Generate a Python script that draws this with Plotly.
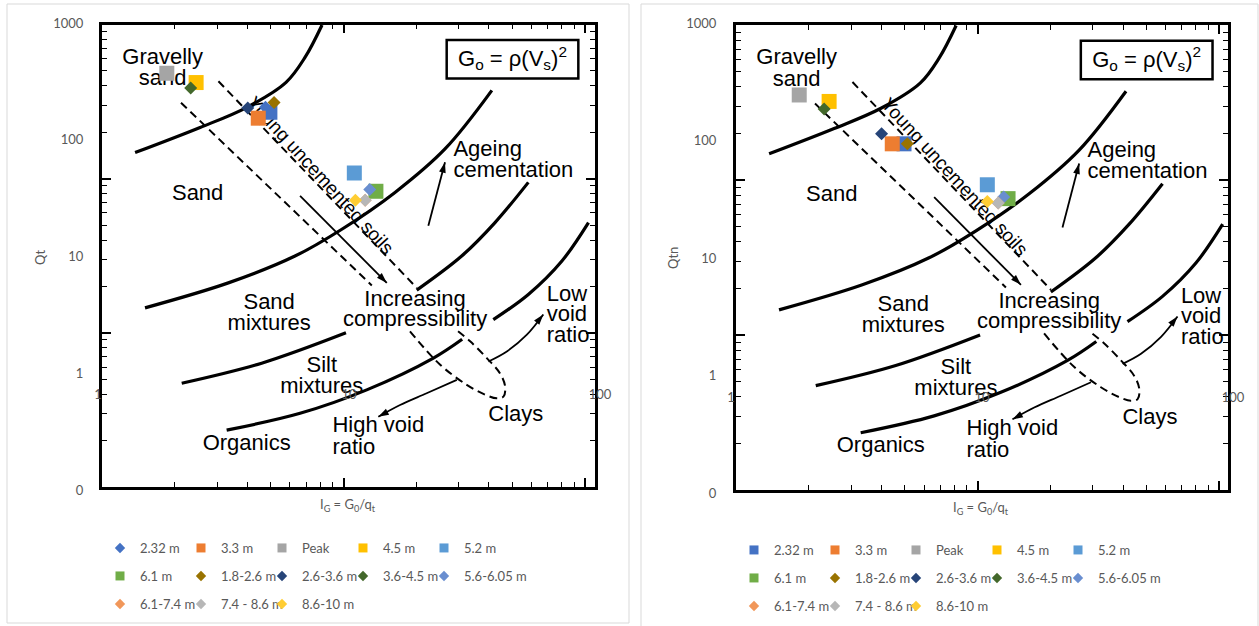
import plotly.graph_objects as go

W, H = 1259, 626

# ---------------- data ----------------
series_names = ["2.32 m", "3.3 m", "Peak", "4.5 m", "5.2 m", "6.1 m", "1.8-2.6 m",
                "2.6-3.6 m", "3.6-4.5 m", "5.6-6.05 m", "6.1-7.4 m", "7.4 - 8.6 m", "8.6-10 m"]
series_colors = ["#4472C4", "#ED7D31", "#A5A5A5", "#FFC000", "#5B9BD5", "#70AD47", "#997300",
                 "#264478", "#43682B", "#698ED0", "#F1975A", "#B7B7B7", "#FFCD33"]
legend_symbols_left = ["diamond", "square", "square", "square", "square", "square", "diamond",
                       "diamond", "diamond", "diamond", "diamond", "diamond", "diamond"]
legend_symbols_right = ["square", "square", "square", "square", "square", "square", "diamond",
                        "diamond", "diamond", "diamond", "diamond", "diamond", "diamond"]
point_symbols_left = [["diamond", "square"], ["square"], ["square"], ["square"], ["square"], ["square"],
                      ["diamond"], ["diamond"], ["diamond"], ["diamond"], ["diamond"], ["diamond"], ["diamond"]]

# left chart: IG vs Qt
ig_left = [[4.65, 4.84], [4.35], [1.88], [2.46], [10.5], [12.8], [5.03], [3.95], [2.34], [12.1], [11.6], [11.6], [10.6]]
qt_left = [[190, 172], [153], [371], [309], [51.9], [36.2], [208], [187], [277], [37.4], [30.3], [30.3], [30.3]]
# right chart: IG vs Qtn
ig_right = [[4.89], [4.39], [1.87], [2.46], [10.5], [12.7], [5.04], [3.98], [2.35], [12.2], [11.6], [11.6], [10.5]]
qtn_right = [[93.7], [93.7], [244], [215], [42.0], [32.0], [93.7], [114], [185], [33.0], [29.4], [29.4], [30.3]]

y_tick_vals = [0.1, 1, 10, 100, 1000]
y_tick_text = ["0", "1", "10", "100", "1000"]
x_tick_vals = [1, 10, 100]
x_tick_text = ["1", "10", "100"]

# ---- background chart (Robertson IG chart), in its own log10(IG), log10(Qtn) units ----
boundary_1 = [(0.137, 2.169), (0.406, 2.332), (0.600, 2.463), (0.762, 2.625), (0.841, 2.788), (0.911, 2.997)]
boundary_2 = [(0.178, 1.162), (0.523, 1.324), (0.799, 1.498), (0.993, 1.672), (1.213, 1.911), (1.420, 2.193), (1.614, 2.573)]
boundary_3 = [(0.330, 0.673), (0.661, 0.803), (1.010, 1.000), None,
              (1.303, 1.277), (1.489, 1.498), (1.627, 1.715), (1.765, 1.976)]
boundary_4 = [(0.516, 0.369), (0.820, 0.478), (1.096, 0.630), (1.372, 0.836), (1.491, 0.958), None,
              (1.620, 1.086), (1.765, 1.249), (1.904, 1.466), (2.014, 1.715)]
dashed_a = [(0.327, 2.493), (1.117, 1.307)]
dashed_b = [(0.482, 2.632), (1.303, 1.292)]
dashed_loop = [(1.275, 1.010), (1.400, 0.793), (1.510, 0.663), (1.586, 0.599), (1.634, 0.575), (1.662, 0.586),
               (1.669, 0.651), (1.648, 0.736), (1.593, 0.836), (1.524, 0.945), (1.474, 1.010)]
arrow_compress = [(0.820, 1.889), (1.179, 1.324)]
arrow_ageing = [(1.351, 1.694), (1.420, 2.106)]
arrow_high_void = [(1.469, 0.695), (1.344, 0.608), (1.234, 0.532), (1.144, 0.456)]
arrow_low_void = [(1.600, 0.814), (1.676, 0.879), (1.759, 0.988), (1.827, 1.119)]

labels_centered = [("Gravelly", 0.251, 2.782), ("sand", 0.251, 2.645), ("Sand", 0.396, 1.900),
                   ("Sand", 0.692, 1.190), ("mixtures", 0.692, 1.053), ("Silt", 0.910, 0.782),
                   ("mixtures", 0.910, 0.647), ("Organics", 0.599, 0.278), ("Increasing", 1.296, 1.212),
                   ("compressibility", 1.296, 1.079), ("Clays", 1.713, 0.463)]
labels_left = [("High void", 0.954, 0.391), ("ratio", 0.954, 0.250), ("Low", 1.841, 1.244),
               ("void", 1.841, 1.114), ("ratio", 1.841, 0.977), ("Ageing", 1.455, 2.182),
               ("cementation", 1.455, 2.048)]
rotated_label = ("Young uncemented soils", 0.911, 2.030, 47.5)
formula_box = (1.427, 1.972, 2.650, 2.899)
formula_text = "G<sub>o</sub> = ρ(V<sub>s</sub>)<sup>2</sup>"

# ---------------- figure ----------------
GRAY = "#595959"
XL_FONT = "Lato, 'Open Sans', sans-serif"
SCAN_FONT = "'Liberation Sans', Arial, sans-serif"

fig = go.Figure()


def to_values(pairs):
    xs, ys = [], []
    for p in pairs:
        if p is None:
            xs.append(None)
            ys.append(None)
        else:
            xs.append(10 ** p[0])
            ys.append(10 ** p[1])
    return xs, ys


def add_background(xa, ya):
    for curve in [boundary_1, boundary_2, boundary_3, boundary_4]:
        xs, ys = to_values(curve)
        fig.add_trace(go.Scatter(x=xs, y=ys, mode="lines", line=dict(color="black", width=3.2, shape="spline"),
                                 xaxis=xa, yaxis=ya, showlegend=False, hoverinfo="skip"))
    for curve in [dashed_a, dashed_b, dashed_loop]:
        xs, ys = to_values(curve)
        fig.add_trace(go.Scatter(x=xs, y=ys, mode="lines",
                                 line=dict(color="black", width=2, dash="8px,5px", shape="spline"),
                                 xaxis=xa, yaxis=ya, showlegend=False, hoverinfo="skip"))
    for curve in [arrow_compress, arrow_ageing, arrow_high_void, arrow_low_void]:
        xs, ys = to_values(curve)
        n = len(xs)
        fig.add_trace(go.Scatter(x=xs, y=ys, mode="lines+markers",
                                 line=dict(color="black", width=1.8, shape="spline"),
                                 marker=dict(symbol=["circle"] * (n - 1) + ["arrow"], size=[0] * (n - 1) + [11],
                                             angleref="previous", color="black", opacity=1, line=dict(width=0)),
                                 xaxis=xa, yaxis=ya, showlegend=False, hoverinfo="skip"))
    xs, ys = to_values([(l[1], l[2]) for l in labels_centered])
    fig.add_trace(go.Scatter(x=xs, y=ys, mode="text", text=[l[0] for l in labels_centered],
                             textposition="middle center", textfont=dict(family=SCAN_FONT, size=22, color="black"),
                             xaxis=xa, yaxis=ya, showlegend=False, hoverinfo="skip"))
    xs, ys = to_values([(l[1], l[2]) for l in labels_left])
    fig.add_trace(go.Scatter(x=xs, y=ys, mode="text", text=[l[0] for l in labels_left],
                             textposition="middle right", textfont=dict(family=SCAN_FONT, size=22, color="black"),
                             xaxis=xa, yaxis=ya, showlegend=False, hoverinfo="skip"))
    # formula box
    x0, x1, y0, y1 = formula_box
    fig.add_shape(type="rect", xref=xa, yref=ya, x0=10 ** x0, x1=10 ** x1, y0=10 ** y0, y1=10 ** y1,
                  line=dict(color="black", width=2.5), layer="below",
                  label=dict(text=formula_text, font=dict(family=SCAN_FONT, size=22, color="black"),
                             textposition="middle center"))
    # rotated label
    txt, lx, ly, ang = rotated_label
    fig.add_shape(type="rect", xref=xa, yref=ya, x0=10 ** (lx - 0.01), x1=10 ** (lx + 0.01),
                  y0=10 ** (ly - 0.01), y1=10 ** (ly + 0.01), line=dict(width=0, color="rgba(0,0,0,0)"),
                  layer="below",
                  label=dict(text=txt, textangle=ang, textposition="middle center",
                             font=dict(family=SCAN_FONT, size=19, color="black")))


add_background("x", "y")
add_background("x2", "y2")

# data series
for i, name in enumerate(series_names):
    fig.add_trace(go.Scatter(x=ig_left[i], y=qt_left[i], mode="markers", name=name,
                             marker=dict(symbol=point_symbols_left[i], color=series_colors[i], opacity=1,
                                         size=[15 if s == "square" else 10 for s in point_symbols_left[i]],
                                         line=dict(width=0)),
                             xaxis="x3", yaxis="y3", showlegend=False))
for i, name in enumerate(series_names):
    sym = legend_symbols_right[i]
    fig.add_trace(go.Scatter(x=ig_right[i], y=qtn_right[i], mode="markers", name=name,
                             marker=dict(symbol=sym, color=series_colors[i], opacity=1,
                                         size=15 if sym == "square" else 10, line=dict(width=0)),
                             xaxis="x4", yaxis="y4", showlegend=False))

# legend entries (Excel-like small markers), one legend per row
legend_ids_left = ["legend", "legend2", "legend3"]
legend_ids_right = ["legend4", "legend5", "legend6"]
for i, name in enumerate(series_names):
    last_in_row = (i % 5 == 4) or (i == len(series_names) - 1)
    for syms, lids, xa, ya in [(legend_symbols_left, legend_ids_left, "x3", "y3"),
                               (legend_symbols_right, legend_ids_right, "x4", "y4")]:
        sym = syms[i]
        fig.add_trace(go.Scatter(x=[None], y=[None], mode="markers", name=name,
                                 marker=dict(symbol=sym, color=series_colors[i], size=9 if sym == "square" else 8,
                                             line=dict(width=0)),
                                 legendwidth=90 if last_in_row else 36,
                                 legend=lids[i // 5], xaxis=xa, yaxis=ya, showlegend=True))


def img_axis(domain, anchor, rng):
    return dict(domain=domain, anchor=anchor, type="log", range=rng, showline=True, linecolor="black",
                linewidth=2.5, mirror="allticks", ticks="inside", ticklen=9, tickwidth=1.5, tickcolor="black",
                dtick=1, showticklabels=False, showgrid=False, zeroline=False, fixedrange=True,
                minor=dict(ticks="inside", ticklen=5, tickwidth=1.2, tickcolor="black", dtick="D1", showgrid=False))


def data_xaxis(domain, pos):
    return dict(domain=domain, anchor="free", position=pos, type="log", range=[0, 2],
                tickvals=x_tick_vals, ticktext=x_tick_text, showline=False, showgrid=False, zeroline=False,
                ticks="outside", ticklen=9, tickcolor="rgba(0,0,0,0)", automargin=False,
                tickfont=dict(family=XL_FONT, size=13, color=GRAY), fixedrange=True)


def data_yaxis(domain, anchor):
    return dict(domain=domain, anchor=anchor, type="log", range=[-1, 3],
                tickvals=y_tick_vals, ticktext=y_tick_text, showline=False, showgrid=False, zeroline=False,
                ticks="outside", ticklen=11, tickcolor="rgba(0,0,0,0)", automargin=False,
                tickfont=dict(family=XL_FONT, size=13, color=GRAY), fixedrange=True)


def legend_cfg(xpx, ypx):
    return dict(x=xpx / W, y=1 - ypx / H, xanchor="left", yanchor="middle", orientation="h",
                entrywidthmode="pixels", itemwidth=30, traceorder="normal",
                font=dict(family=XL_FONT, size=13, color=GRAY), bgcolor="rgba(0,0,0,0)", borderwidth=0)


fig.update_layout(
    width=W, height=H, margin=dict(l=0, r=0, t=0, b=0, autoexpand=False),
    paper_bgcolor="white", plot_bgcolor="rgba(0,0,0,0)",
    xaxis=img_axis([102 / W, 595 / W], "y", [0, 2.041]),
    yaxis=img_axis([1 - 487 / H, 1 - 24.5 / H], "x", [0, 3]),
    xaxis2=img_axis([736 / W, 1228 / W], "y2", [0, 2.036]),
    yaxis2=img_axis([1 - 490 / H, 1 - 25 / H], "x2", [0, 3]),
    xaxis3=data_xaxis([98 / W, 600 / W], 1 - 373 / H),
    yaxis3=data_yaxis([1 - 490 / H, 1 - 23 / H], "x3"),
    xaxis4=data_xaxis([731 / W, 1233 / W], 1 - 376 / H),
    yaxis4=data_yaxis([1 - 493 / H, 1 - 23 / H], "x4"),
    legend=legend_cfg(100, 548), legend2=legend_cfg(100, 576), legend3=legend_cfg(100, 604),
    legend4=legend_cfg(734, 550), legend5=legend_cfg(734, 578), legend6=legend_cfg(734, 606),
    showlegend=True,
)

# chart-area borders
fig.add_shape(type="rect", xref="paper", yref="paper", x0=7 / W, x1=629 / W, y0=1 - 623 / H, y1=1 - 4 / H,
              line=dict(color="#D9D9D9", width=1), layer="below")
fig.add_shape(type="rect", xref="paper", yref="paper", x0=641 / W, x1=1258 / W, y0=1 - 640 / H, y1=1 - 4 / H,
              line=dict(color="#D9D9D9", width=1), layer="below")

# axis titles
for txt, xpx, ypx, ang in [("Qt", 40, 258, -90), ("Qtn", 673, 258, -90),
                           ("I<sub>G</sub> = G<sub>0</sub>/q<sub>t</sub>", 348, 505, 0),
                           ("I<sub>G</sub> = G<sub>0</sub>/q<sub>t</sub>", 981, 508, 0)]:
    fig.add_annotation(text=txt, x=xpx / W, y=1 - ypx / H, xref="paper", yref="paper", showarrow=False,
                       textangle=ang, xanchor="center", yanchor="middle",
                       font=dict(family=XL_FONT, size=13, color=GRAY))

fig.write_html("out.html", config={"displayModeBar": False},
               post_script="document.body.style.margin='0';document.body.style.overflow='hidden';")
